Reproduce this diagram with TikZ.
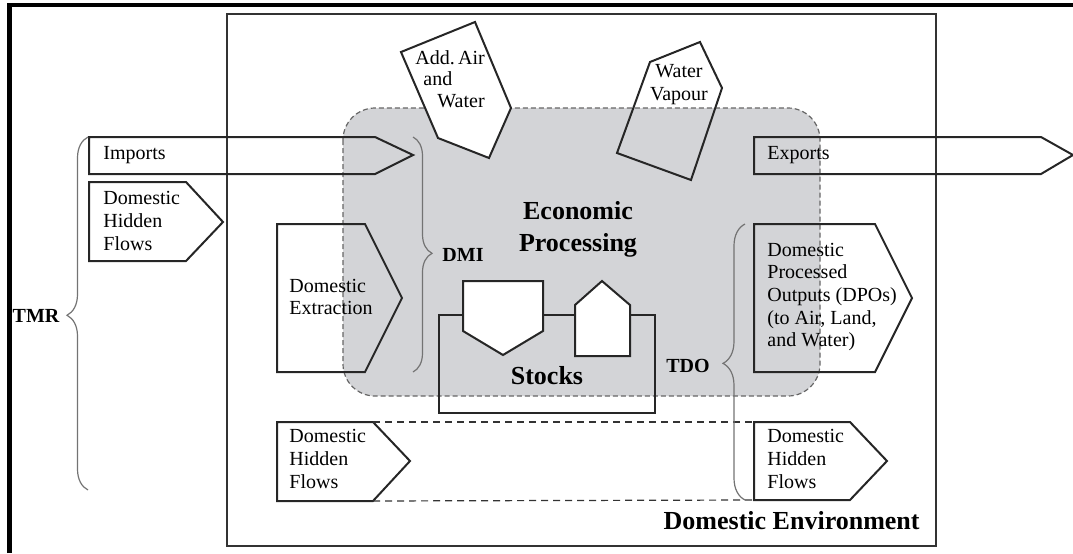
\documentclass[tikz,border=0pt]{standalone}
\usepackage{fontspec}
\setmainfont{Liberation Serif}
\usetikzlibrary{decorations.pathreplacing,positioning,calc}
\definecolor{procgray}{RGB}{211,212,215}

\begin{document}
\begin{tikzpicture}[x=0.5pt,y=-0.5pt,
    flow/.style={draw=black!85,line width=1pt,line join=miter},
    lbl/.style={inner sep=0pt,anchor=west,align=left,font=\fontsize{10}{11.3}\selectfont},
    bold/.style={inner sep=0pt,font=\fontsize{10}{12}\selectfont\bfseries},
    bigbold/.style={inner sep=0pt,align=center,font=\fontsize{13}{16}\selectfont\bfseries},
    curly/.style={draw=black!55,line width=0.6pt,decorate,decoration={brace,amplitude=#1,aspect=0.495}}]
  \useasboundingbox (0,0) rectangle (1073,553);
  \draw[line width=2.3pt] (9.5,553) -- (9.5,5) -- (1073,5);

  % domestic environment and processing area
  \draw[line width=0.6pt,draw=black!80] (227,14) rectangle (936,546);
  \draw[fill=procgray,draw=black!60,line width=0.6pt,dash pattern=on 2.5pt off 1.5pt,
    rounded corners=16pt] (343,108) rectangle (820,396);

  % flows in
  \draw[flow] (89,137) -- (375,137) -- (413,155) -- (375,174) -- (89,174) -- cycle;
  \node[lbl] (imp) at (103,155) {Imports};
  \draw[flow] (89,182) -- (186,182) -- (223,222) -- (186,261) -- (89,261) -- cycle;
  \node[lbl] (dhf1) at (103,221) {Domestic\\Hidden\\Flows};
  \draw[flow] (277,224) -- (365,224) -- (402,298) -- (365,372) -- (277,372) -- cycle;
  \node[lbl] (dext) at (289,297) {Domestic\\Extraction};
  \draw[flow] (277,422) -- (373,422) -- (410,461) -- (373,501) -- (277,501) -- cycle;
  \node[lbl] (dhf2) at (289,459) {Domestic\\Hidden\\Flows};
  \coordinate (dhf2-n) at (373,422);
  \coordinate (dhf2-s) at (373,501);

  % flows out
  \draw[flow] (754,137) -- (1041,137) -- (1073,155) -- (1041,174) -- (754,174) -- cycle;
  \node[lbl] (exp) at (767,155) {Exports};
  \draw[flow] (754,224) -- (875,224) -- (912,298) -- (875,372) -- (754,372) -- cycle;
  \node[lbl] (dpo) at (767,297) {Domestic\\Processed\\Outputs (DPOs)\\(to Air, Land,\\and Water)};
  \draw[flow] (754,422) -- (850,422) -- (887,461) -- (850,500) -- (754,500) -- cycle;
  \node[lbl] (dhf3) at (767,459) {Domestic\\Hidden\\Flows};
  \coordinate (dhf3-n) at (754,422);
  \coordinate (dhf3-s) at (754,500);
  \draw[draw=black!80,line width=0.6pt,dash pattern=on 3.5pt off 2.5pt] (dhf2-n) -- (dhf3-n);
  \draw[draw=black!80,line width=0.6pt,dash pattern=on 3.5pt off 2.5pt] (dhf2-s) -- (dhf3-s);

  % air and water
  \draw[flow,fill=white] (401,52) -- (475,22) -- (511,108) -- (489,158) -- (438,138) -- cycle;
  \node[lbl,font=\fontsize{10}{10.8}\selectfont] (air) at (415,79)
    {Add.\,Air\\\hspace*{4pt}and\\\hspace*{11pt}Water};
  \draw[flow] (650,62) -- (700,42) -- (722,88) -- (691,180) -- (617,153) -- cycle;
  \node[lbl,anchor=center,align=center,font=\fontsize{10}{11.5}\selectfont] (vap) at (679,85) {Water\\Vapour};

  % stocks
  \draw[draw=black!85,line width=1.3pt] (439,315) rectangle (655,413);
  \draw[flow,fill=white] (463,281) -- (543,281) -- (543,331) -- (503,355) -- (463,331) -- cycle;
  \draw[flow,fill=white] (575,356) -- (575,305) -- (602,281) -- (630,305) -- (630,356) -- cycle;
  \node[bigbold] (stk) at (547,376) {Stocks};
  \node[bigbold] (eco) at (578,229) {Economic\\Processing};

  % braces
  \draw[curly=10.5pt] (88,490) -- (88,137);
  \node[bold] (tmr) at (36,316) {TMR};
  \draw[curly=9.5pt] (413,137) -- (413,372);
  \node[bold] (dmi) at (463,255) {DMI};
  \draw[curly=11pt] (745,500) -- (745,224);
  \node[bold] (tdo) at (688,366) {TDO};

  \node[bigbold,anchor=east] (env) at (920,521) {Domestic Environment};
\end{tikzpicture}
\end{document}
